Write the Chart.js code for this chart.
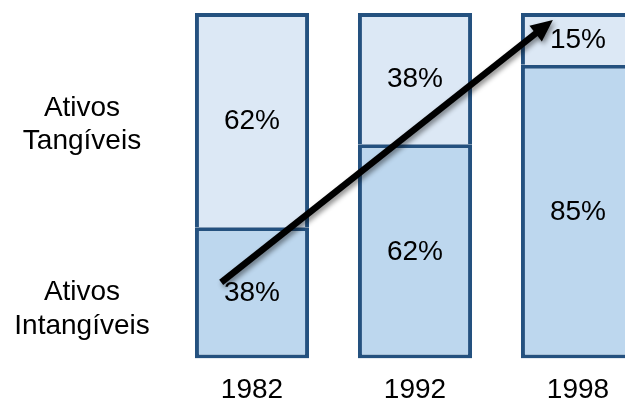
<!DOCTYPE html>
<html>
<head>
<meta charset="utf-8">
<script src="https://cdn.jsdelivr.net/npm/chart.js@4.4.1/dist/chart.umd.min.js"></script>
<style>
  html, body { margin: 0; padding: 0; background: #fff; overflow: hidden; }
  .wrap { position: absolute; left: 0; top: 0; width: 680px; height: 422px; }
</style>
</head>
<body>
<div class="wrap"><canvas id="ativos"></canvas></div>
<script>
const anos = ['1982', '1992', '1998'];
const intangiveis = [38, 62, 85];
const tangiveis = [62, 38, 15];
const rotulosLaterais = [['Ativos', 'Tangíveis'], ['Ativos', 'Intangíveis']];

const fonte = '"Liberation Sans", Arial, sans-serif';
const azulBorda = '#24517f';

// percentage written in the middle of each segment
const rotulosPct = {
  id: 'rotulosPct',
  afterDatasetsDraw(chart) {
    const ctx = chart.ctx;
    ctx.save();
    ctx.font = '28px ' + fonte;
    ctx.fillStyle = '#000';
    ctx.textAlign = 'center';
    ctx.textBaseline = 'middle';
    chart.data.datasets.forEach((ds, i) => {
      chart.getDatasetMeta(i).data.forEach((bar, j) => {
        ctx.fillText(ds.data[j] + '%', bar.x, (bar.y + bar.base) / 2 + 1);
      });
    });
    ctx.restore();
  }
};

// trend arrow from the 1982 bar up to the top of 1998
const seta = {
  id: 'seta',
  afterDatasetsDraw(chart) {
    const { ctx, scales: { x, y } } = chart;
    const w = chart.getDatasetMeta(0).data[0].width;
    const x0 = x.getPixelForValue(0) - 0.27 * w, y0 = y.getPixelForValue(22);
    const x1 = x.getPixelForValue(2) - 0.22 * w, y1 = y.getPixelForValue(98);
    const a = Math.atan2(y1 - y0, x1 - x0);
    const cos = Math.cos(a), sin = Math.sin(a);
    const head = 22, half = 10;
    const bx = x1 - head * cos, by = y1 - head * sin;
    ctx.save();
    ctx.shadowColor = 'rgba(0,0,0,0.45)';
    ctx.shadowBlur = 5;
    ctx.shadowOffsetX = 2;
    ctx.shadowOffsetY = 3;
    ctx.strokeStyle = '#000';
    ctx.fillStyle = '#000';
    ctx.lineWidth = 6.5;
    ctx.beginPath();
    ctx.moveTo(x0, y0);
    ctx.lineTo(bx + 2 * cos, by + 2 * sin);
    ctx.stroke();
    ctx.beginPath();
    ctx.moveTo(x1, y1);
    ctx.lineTo(bx + half * sin, by - half * cos);
    ctx.lineTo(bx - half * sin, by + half * cos);
    ctx.closePath();
    ctx.fill();
    ctx.restore();
  }
};

// series names on the left side
const legendaLateral = {
  id: 'legendaLateral',
  afterDraw(chart) {
    const ctx = chart.ctx;
    const bases = [[116, 149], [300, 334]];
    ctx.save();
    ctx.font = '28px ' + fonte;
    ctx.fillStyle = '#000';
    ctx.textAlign = 'center';
    ctx.textBaseline = 'alphabetic';
    rotulosLaterais.forEach((linhas, i) => {
      linhas.forEach((t, k) => ctx.fillText(t, 82, bases[i][k]));
    });
    ctx.restore();
  }
};

new Chart(document.getElementById('ativos'), {
  type: 'bar',
  data: {
    labels: anos,
    datasets: [
      {
        label: 'Ativos Intangíveis',
        data: intangiveis,
        backgroundColor: '#bdd7ee',
        borderColor: azulBorda,
        borderWidth: { top: 4, bottom: 4, left: 4, right: 4 },
        borderSkipped: false,
        categoryPercentage: 1,
        barPercentage: 0.7
      },
      {
        label: 'Ativos Tangíveis',
        data: tangiveis,
        backgroundColor: '#dce8f5',
        borderColor: azulBorda,
        borderWidth: { top: 4, bottom: 0, left: 4, right: 4 },
        borderSkipped: false,
        categoryPercentage: 1,
        barPercentage: 0.7
      }
    ]
  },
  options: {
    responsive: true,
    maintainAspectRatio: false,
    animation: false,
    events: [],
    layout: { padding: { left: 170.5, right: 20.5, top: 13, bottom: 0 } },
    plugins: {
      legend: { display: false },
      tooltip: { enabled: false }
    },
    scales: {
      x: {
        stacked: true,
        grid: { display: false, drawTicks: false },
        border: { display: false },
        ticks: { padding: 15, color: '#000', font: { family: fonte, size: 28 } }
      },
      y: { stacked: true, display: false, min: 0, max: 100 }
    }
  },
  plugins: [rotulosPct, seta, legendaLateral]
});
</script>
</body>
</html>
